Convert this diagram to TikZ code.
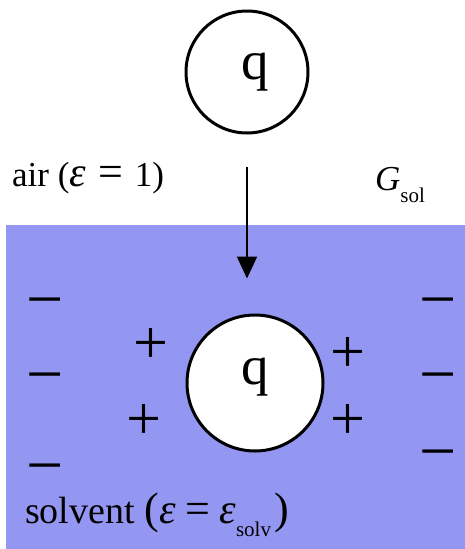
\documentclass[tikz,border=0pt]{standalone}
\usepackage{fontspec}
\setmainfont{Liberation Serif}
\usetikzlibrary{arrows.meta}

\definecolor{solvblue}{RGB}{148,151,241}
\newcommand{\eps}{{\fontsize{42}{42}\selectfont\itshape ε}}
\newcommand{\bigeq}{{\fontsize{44}{44}\selectfont =}}
\newcommand{\bigpar}[1]{{\fontsize{44}{44}\selectfont #1}}
\newcommand{\lowsub}[1]{\raisebox{-0.35em}{\fontsize{21}{21}\selectfont #1}}

\begin{document}
\begin{tikzpicture}[x=1pt, y=-1pt, >={Triangle[length=22pt, width=20pt]},
	ion/.style={draw, line width=3pt, circle, fill=white, inner sep=0pt},
	qlabel/.style={font=\fontsize{55}{55}\selectfont, inner sep=0pt},
	chg/.style={font=\fontsize{62}{62}\selectfont, inner sep=0pt},
	minus/.style={font=\fontsize{66}{66}\selectfont, inner sep=0pt, anchor=base, text height=22pt, text depth=0pt}]
	\useasboundingbox (0,0) rectangle (465,549);
	\fill[solvblue] (6,225) rectangle (465,549);
	% the charge in air and in the solvent
	\node[ion, minimum size=122pt] (qair) at (247,72) {};
	\node[qlabel] (qairtxt) at (255,72) {q};
	\node[ion, minimum size=136pt] (qsolv) at (255,383) {};
	\node[qlabel] (qsolvtxt) at (255,377) {q};
	\draw[->, line width=2.2pt, shorten <=32pt, shorten >=35pt] (qair.south) -- (qair.south |- qsolv.north);
	% labels
	\node[anchor=base west, font=\fontsize{35}{35}\selectfont, inner sep=0pt] (airlbl) at (12,186) {air (\eps\hspace{12pt}\bigeq\hspace{12pt}1)};
	\node[anchor=base west, font=\fontsize{35}{35}\selectfont, inner sep=0pt] (gsol) at (375,190) {{\itshape G}\lowsub{sol}};
	\node[anchor=base west, font=\fontsize{38}{38}\selectfont, inner sep=0pt] (solvlbl) at (25,523) {solvent \bigpar{(}\eps\hspace{10pt}\bigeq\hspace{9pt}\eps\lowsub{solv}\hspace{3pt}\bigpar{)}};
	% induced charges
	\foreach \y [count=\i] in {299,374,465} \node[minus] (ml\i) at (45,\y+22) {−};
	\foreach \y [count=\i] in {299,374,451} \node[minus] (mr\i) at (438,\y+22) {−};
	\node[chg] (p1) at (151,346) {+};
	\node[chg] (p2) at (144,422) {+};
	\node[chg] (p3) at (348,355) {+};
	\node[chg] (p4) at (348,422) {+};
\end{tikzpicture}
\end{document}
